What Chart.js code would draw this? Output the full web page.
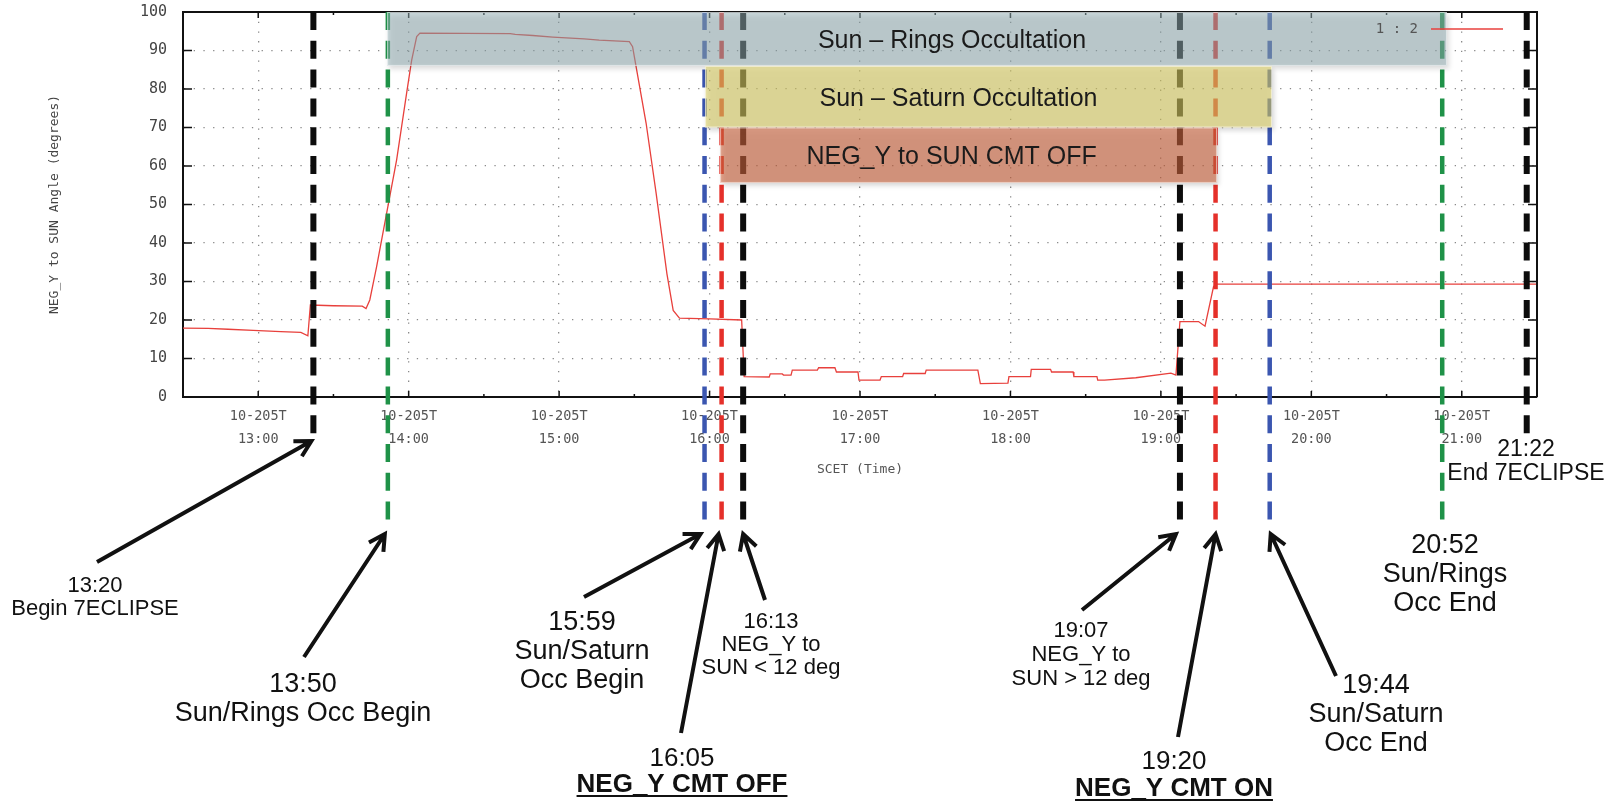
<!DOCTYPE html>
<html>
<head>
<meta charset="utf-8">
<title>NEG_Y to SUN Angle - 7ECLIPSE</title>
<script src="https://cdn.jsdelivr.net/npm/chart.js@4.4.1/dist/chart.umd.min.js"></script>
<style>
    html, body { margin: 0; padding: 0; background: #fff; }
    #wrap { width: 1610px; height: 804px; position: relative; }
</style>
</head>
<body>
<div id="wrap"><canvas id="angleChart"></canvas></div>
<script>
// x values are SCET minutes after midnight, day 205
const angleTimes = [750, 760, 768, 778, 789, 797, 799.8, 800.8, 810, 821.5, 823, 824.5, 827.2, 831.2, 835.2, 839.2, 841.2, 843.2, 844.5,
    880.5, 882.5, 889.5, 897.5, 910, 916, 928, 929.3, 930.7, 934.7, 938.7, 943, 945.5, 948, 960, 972.8, 973.8,
    983.8, 984.2, 989, 989.5, 992.5, 993, 1003, 1003.5, 1010, 1010.6, 1019.2, 1019.6, 1028, 1028.5, 1037, 1037.4,
    1046, 1046.4, 1067, 1068, 1079, 1079.4, 1088, 1088.3, 1096, 1096.4, 1105, 1105.3, 1114.5, 1114.8, 1117.5,
    1130, 1144, 1146, 1147.6, 1155, 1157.6, 1161, 1162, 1290];
const angleValues = [17.9, 17.8, 17.6, 17.3, 17.0, 16.8, 15.9, 23.9, 23.7, 23.6, 23.0, 25.2, 33.8, 47.7, 61.6, 79.0, 87.5, 93.6, 94.5,
    94.4, 94.2, 93.9, 93.5, 93.0, 92.7, 92.3, 91.0, 85.8, 71.1, 52.9, 32.0, 22.5, 20.5, 20.3, 20.0, 5.3,
    5.2, 6.0, 6.0, 5.7, 5.7, 7.0, 7.0, 7.6, 7.6, 6.5, 6.5, 4.4, 4.4, 5.3, 5.3, 6.1,
    6.1, 7.0, 7.0, 3.5, 3.6, 5.3, 5.3, 7.2, 7.2, 6.5, 6.5, 5.3, 5.3, 4.4, 4.4,
    5.0, 6.2, 5.7, 19.6, 19.6, 18.4, 28.7, 29.3, 29.3];

const yTicks = [0, 10, 20, 30, 40, 50, 60, 70, 80, 90, 100];
const dayTag = '10-205T';

// event markers (dashed verticals)
const eventTimes = [802, 831.7, 958, 964.8, 973.4, 1147.6, 1161.8, 1183.4, 1252.2, 1285.9];
const eventKinds = ['black', 'green', 'blue', 'red', 'black', 'black', 'red', 'blue', 'green', 'black'];
const eventNotes = [
    ['13:20', 'Begin 7ECLIPSE'],
    ['13:50', 'Sun/Rings Occ Begin'],
    ['15:59', 'Sun/Saturn', 'Occ Begin'],
    ['16:05', 'NEG_Y CMT OFF'],
    ['16:13', 'NEG_Y to', 'SUN < 12 deg'],
    ['19:07', 'NEG_Y to', 'SUN > 12 deg'],
    ['19:20', 'NEG_Y CMT ON'],
    ['19:44', 'Sun/Saturn', 'Occ End'],
    ['20:52', 'Sun/Rings', 'Occ End'],
    ['21:22', 'End 7ECLIPSE']
];

// occultation / command windows
const spanLabels = ['Sun \u2013 Rings Occultation', 'Sun \u2013 Saturn Occultation', 'NEG_Y to SUN CMT OFF'];
const spanStart = [831.4, 958.2, 964.2];
const spanEnd = [1254.1, 1184.3, 1162.4];
const spanHigh = [100, 86, 70];
const spanLow = [86, 70, 55.6];

// ---- styling / layout (pixels) ----
const KIND_COLORS = { black: '#0c0c0c', green: '#1f9248', blue: '#3b56b0', red: '#e5302a' };
const SPAN_STYLE = [
    { fill: 'rgba(150,178,184,0.5)', shift: 35 },
    { fill: 'rgba(220,208,100,0.58)', shift: -30 },
    { fill: 'rgba(205,100,62,0.6)', shift: -17 }
];
const LINE_REACH = [40, 133, 133, 133, 133, 133, 133, 133, 133, 40];
const NOTE_LAYOUT = [
    { x: 95, y: 592, size: 22, lead: 23, tail: [97, 562], dx: -2 },
    { x: 303, y: 692, size: 27, lead: 29, tail: [304, 657], dx: -3 },
    { x: 582, y: 630, size: 27, lead: 29, tail: [584, 597], dx: -4 },
    { x: 682, y: 766, size: 26, lead: 26, tail: [681, 733], dx: -3, bold: true },
    { x: 771, y: 628, size: 22, lead: 23, tail: [765, 600], dx: 0 },
    { x: 1081, y: 637, size: 22, lead: 24, tail: [1082, 610], dx: -4 },
    { x: 1174, y: 769, size: 26, lead: 27, tail: [1178, 737], dx: 0, bold: true },
    { x: 1376, y: 693, size: 27, lead: 29, tail: [1336, 676], dx: 1 },
    { x: 1445, y: 553, size: 27, lead: 29 },
    { x: 1526, y: 456, size: 23, lead: 24 }
];
const SANS = '"Liberation Sans", Arial, sans-serif';
const MONO = '"DejaVu Sans Mono", monospace';

const drawArrow = (ctx, x1, y1, x2, y2) => {
    const ang = Math.atan2(y2 - y1, x2 - x1);
    const len = 18, spread = 0.5;
    ctx.beginPath();
    ctx.moveTo(x1, y1);
    ctx.lineTo(x2, y2);
    ctx.moveTo(x2 - len * Math.cos(ang - spread), y2 - len * Math.sin(ang - spread));
    ctx.lineTo(x2, y2);
    ctx.lineTo(x2 - len * Math.cos(ang + spread), y2 - len * Math.sin(ang + spread));
    ctx.stroke();
};

const overlayPlugin = {
    id: 'eclipseOverlay',
    afterDatasetsDraw: (chart) => {
        const { ctx, chartArea: a, scales: { x, y } } = chart;
        ctx.save();

        // inward tick marks (gnuplot style), all four sides
        ctx.strokeStyle = '#111';
        ctx.lineWidth = 1.5;
        ctx.beginPath();
        yTicks.forEach(v => {
            const py = y.getPixelForValue(v);
            ctx.moveTo(a.left, py); ctx.lineTo(a.left + 9, py);
            ctx.moveTo(a.right, py); ctx.lineTo(a.right - 9, py);
        });
        x.ticks.forEach(t => {
            const px = x.getPixelForValue(t.value);
            const len = t.value % 60 === 0 ? 6 : 3;
            ctx.moveTo(px, a.bottom); ctx.lineTo(px, a.bottom - len);
            ctx.moveTo(px, a.top); ctx.lineTo(px, a.top + len);
        });
        ctx.stroke();

        // top and right frame
        ctx.lineWidth = 2;
        ctx.beginPath();
        ctx.moveTo(a.left, a.top); ctx.lineTo(a.right, a.top); ctx.lineTo(a.right, a.bottom);
        ctx.stroke();

        // dashed event lines
        ctx.setLineDash([18, 10.8]);
        eventTimes.forEach((t, i) => {
            const px = x.getPixelForValue(t);
            ctx.strokeStyle = KIND_COLORS[eventKinds[i]];
            ctx.lineWidth = eventKinds[i] === 'black' ? 6 : 4.5;
            ctx.beginPath();
            ctx.moveTo(px, a.top);
            ctx.lineTo(px, a.bottom + LINE_REACH[i]);
            ctx.stroke();
        });
        ctx.setLineDash([]);

        // translucent span boxes
        spanLabels.forEach((label, i) => {
            const x1 = x.getPixelForValue(spanStart[i]);
            const x2 = x.getPixelForValue(spanEnd[i]);
            const y1 = y.getPixelForValue(spanHigh[i]);
            const y2 = y.getPixelForValue(spanLow[i]);
            ctx.save();
            ctx.shadowColor = 'rgba(0,0,0,0.28)';
            ctx.shadowBlur = 5;
            ctx.shadowOffsetX = 2;
            ctx.shadowOffsetY = 3;
            ctx.fillStyle = SPAN_STYLE[i].fill;
            ctx.fillRect(x1, y1, x2 - x1, y2 - y1);
            ctx.restore();
            ctx.strokeStyle = 'rgba(255,255,255,0.55)';
            ctx.lineWidth = 1;
            ctx.strokeRect(x1 + 0.5, y1 + 0.5, x2 - x1 - 1, y2 - y1 - 1);

            ctx.fillStyle = '#1b1b1b';
            ctx.font = '25px ' + SANS;
            ctx.textAlign = 'center';
            ctx.textBaseline = 'alphabetic';
            ctx.fillText(label, (x1 + x2) / 2 + SPAN_STYLE[i].shift, (y1 + y2) / 2 + 9);
        });

        // key: "1 : 2" with line sample
        const ds = chart.data.datasets[0];
        ctx.font = '14px ' + MONO;
        ctx.fillStyle = '#555';
        ctx.textAlign = 'right';
        ctx.textBaseline = 'middle';
        ctx.fillText(ds.label, a.right - 119, a.top + 17);
        ctx.strokeStyle = ds.borderColor;
        ctx.lineWidth = 1.5;
        ctx.beginPath();
        ctx.moveTo(a.right - 106, a.top + 17);
        ctx.lineTo(a.right - 34, a.top + 17);
        ctx.stroke();

        ctx.restore();
    },
    afterDraw: (chart) => {
        const { ctx, chartArea: a, scales: { x } } = chart;
        ctx.save();
        ctx.fillStyle = '#111';
        ctx.strokeStyle = '#111';
        ctx.textAlign = 'center';
        ctx.textBaseline = 'alphabetic';

        eventNotes.forEach((lines, i) => {
            const n = NOTE_LAYOUT[i];
            lines.forEach((txt, k) => {
                const bold = n.bold && k === lines.length - 1;
                ctx.font = (bold ? 'bold ' : '') + n.size + 'px ' + SANS;
                const yy = n.y + k * n.lead;
                ctx.fillText(txt, n.x, yy);
                if (bold) {
                    const w = ctx.measureText(txt).width;
                    ctx.fillRect(n.x - w / 2, yy + 3, w, 2);
                }
            });
            if (n.tail) {
                const hx = x.getPixelForValue(eventTimes[i]) + n.dx;
                const hy = a.bottom + LINE_REACH[i] + 4;
                ctx.lineWidth = 4;
                drawArrow(ctx, n.tail[0], n.tail[1], hx, hy);
            }
        });
        ctx.restore();
    }
};

const Eclipse = {
    init: () => {
        const ctx = document.getElementById('angleChart').getContext('2d');
        const points = angleTimes.map((t, i) => ({ x: t, y: angleValues[i] }));

        new Chart(ctx, {
            type: 'line',
            data: {
                datasets: [{
                    label: '1 : 2',
                    data: points,
                    borderColor: '#e8403c',
                    borderWidth: 1.3,
                    pointRadius: 0,
                    tension: 0,
                    fill: false
                }]
            },
            options: {
                responsive: true,
                maintainAspectRatio: false,
                animation: false,
                devicePixelRatio: 1,
                layout: { padding: { left: 0, top: 12, right: 73, bottom: 0 } },
                plugins: {
                    legend: { display: false },
                    tooltip: { enabled: false }
                },
                scales: {
                    x: {
                        type: 'linear',
                        min: 750,
                        max: 1290,
                        afterFit: (scale) => { scale.height = 407; },
                        ticks: {
                            stepSize: 30,
                            autoSkip: false,
                            maxRotation: 0,
                            includeBounds: false,
                            padding: 8,
                            color: '#555',
                            font: { family: MONO, size: 13.5, lineHeight: 1.7 },
                            callback: (v) => {
                                if (v % 60 !== 0) return '';
                                const hh = String(Math.floor(v / 60)).padStart(2, '0');
                                return [dayTag, hh + ':00'];
                            }
                        },
                        grid: {
                            drawTicks: false,
                            lineWidth: 1.3,
                            color: (c) => (c.tick && c.tick.value % 60 === 0) ? '#8a8a8a' : 'rgba(0,0,0,0)'
                        },
                        border: { display: true, color: '#111', width: 2, dash: [1.3, 8.4] },
                        title: {
                            display: true,
                            text: 'SCET (Time)',
                            color: '#555',
                            font: { family: MONO, size: 13 },
                            padding: { top: 0, bottom: 327 }
                        }
                    },
                    y: {
                        min: 0,
                        max: 100,
                        afterFit: (scale) => { scale.width = 183; },
                        ticks: {
                            stepSize: 10,
                            padding: 0,
                            color: '#444',
                            font: { family: MONO, size: 15 }
                        },
                        grid: {
                            drawTicks: true,
                            tickLength: 16,
                            tickColor: 'rgba(0,0,0,0)',
                            lineWidth: 1.3,
                            color: (c) => (c.tick && c.tick.value > 0 && c.tick.value < 100) ? '#8a8a8a' : 'rgba(0,0,0,0)'
                        },
                        border: { display: true, color: '#111', width: 2, dash: [1.3, 8.4] },
                        title: {
                            display: true,
                            text: 'NEG_Y to SUN Angle (degrees)',
                            color: '#444',
                            font: { family: MONO, size: 13 },
                            padding: { top: 47, bottom: 0 }
                        }
                    }
                }
            },
            plugins: [overlayPlugin]
        });
    }
};

document.addEventListener('DOMContentLoaded', () => {
    Eclipse.init();
});
</script>
</body>
</html>
